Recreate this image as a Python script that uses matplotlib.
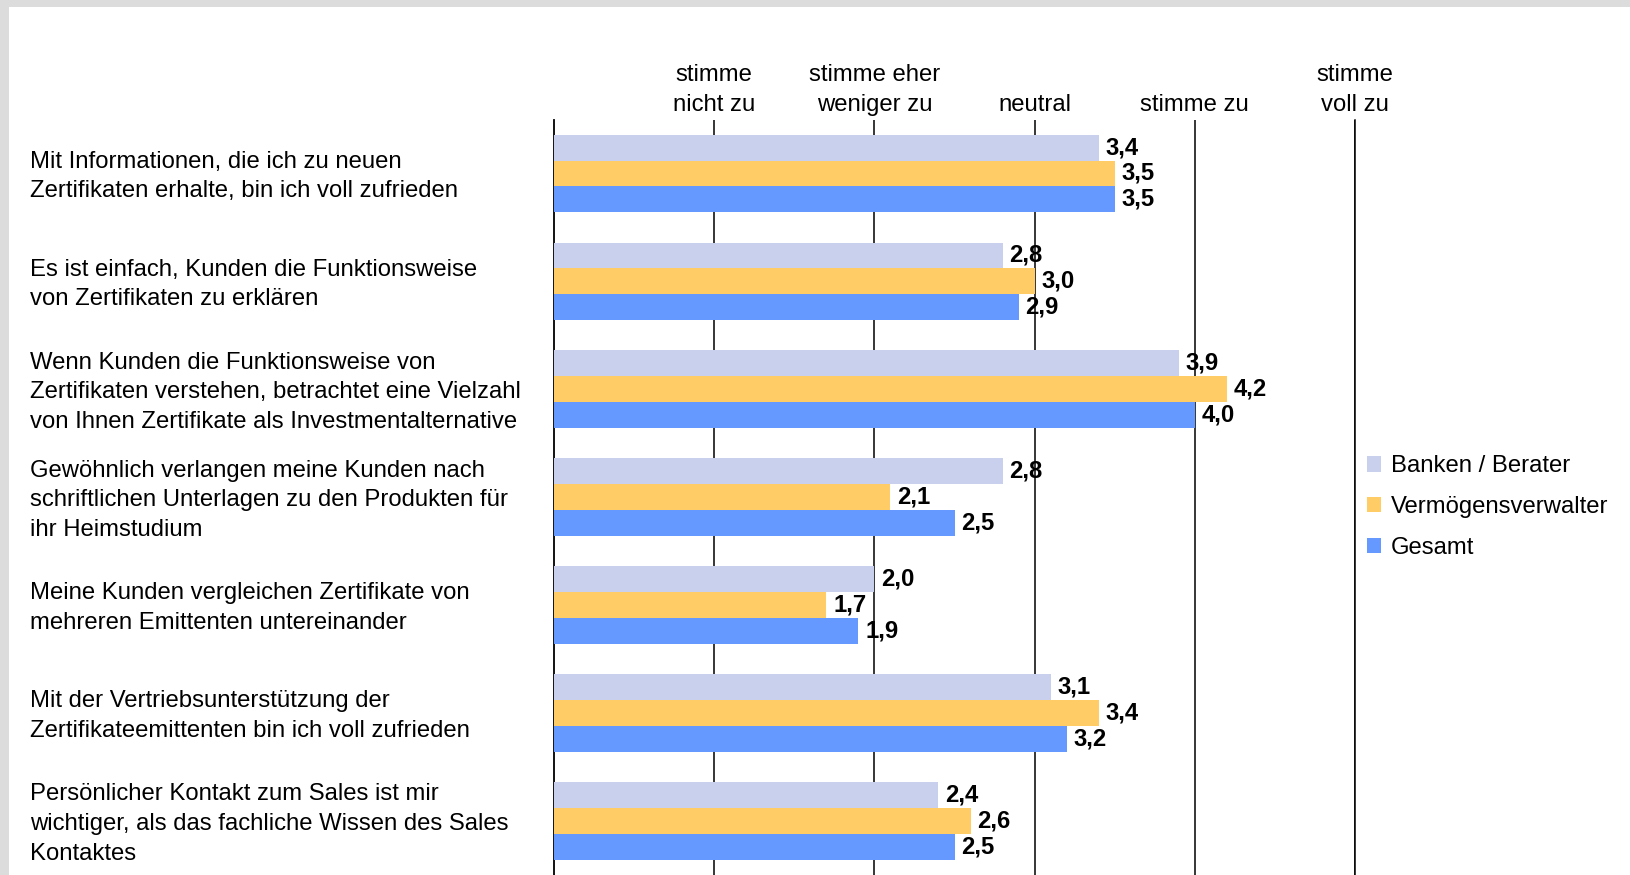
import matplotlib.pyplot as plt
import matplotlib.patches as mpatches
import numpy as np

plt.rcParams['font.family'] = ['Liberation Sans', 'DejaVu Sans']

# Aussagen (Kategorien) und Mittelwerte je Zielgruppe
aussagen = [
    "Mit Informationen, die ich zu neuen\nZertifikaten erhalte, bin ich voll zufrieden",
    "Es ist einfach, Kunden die Funktionsweise\nvon Zertifikaten zu erklären",
    "Wenn Kunden die Funktionsweise von\nZertifikaten verstehen, betrachtet eine Vielzahl\nvon Ihnen Zertifikate als Investmentalternative",
    "Gewöhnlich verlangen meine Kunden nach\nschriftlichen Unterlagen zu den Produkten für\nihr Heimstudium",
    "Meine Kunden vergleichen Zertifikate von\nmehreren Emittenten untereinander",
    "Mit der Vertriebsunterstützung der\nZertifikateemittenten bin ich voll zufrieden",
    "Persönlicher Kontakt zum Sales ist mir\nwichtiger, als das fachliche Wissen des Sales\nKontaktes",
]
banken = [3.4, 2.8, 3.9, 2.8, 2.0, 3.1, 2.4]
vermoegen = [3.5, 3.0, 4.2, 2.1, 1.7, 3.4, 2.6]
gesamt = [3.5, 2.9, 4.0, 2.5, 1.9, 3.2, 2.5]

serien = ["Banken / Berater", "Vermögensverwalter", "Gesamt"]
farben = ["#C8D0EE", "#FFCC66", "#6699FF"]

skala_pos = [1, 2, 3, 4, 5]
skala_text = ["stimme\nnicht zu", "stimme eher\nweniger zu", "neutral", "stimme zu", "stimme\nvoll zu"]

fs = 17.2

fig = plt.figure(figsize=(16.3, 8.75), dpi=100)
fig.patch.set_facecolor("#DCDCDC")
# weisse Flaeche mit grauem Rand oben und links
fig.patches.append(mpatches.Rectangle((9 / 1630, 0), 1, 1 - 7 / 875,
                                      transform=fig.transFigure,
                                      facecolor="white", edgecolor="none", zorder=-5))

ax = fig.add_axes([554 / 1630, 0.0, (1355 - 554) / 1630, 1 - 119.5 / 875])
ax.set_facecolor("none")

y = np.arange(len(aussagen))
h = 0.24
for i, (werte, farbe, name) in enumerate(zip([banken, vermoegen, gesamt], farben, serien)):
    pos = y + (i - 1) * h
    ax.barh(pos, werte, height=h, color=farbe, label=name, zorder=3)
    for p, w in zip(pos, werte):
        ax.annotate(f"{w:.1f}".replace(".", ","), (w, p), xytext=(5, 0),
                    textcoords="offset points", va="center", ha="left",
                    fontsize=fs, fontweight="bold", zorder=4)

ax.set_xlim(0, 5)
ax.set_ylim(len(aussagen) - 0.5, -0.5)

ax.xaxis.tick_top()
ax.set_xticks(skala_pos)
ax.set_xticklabels(skala_text, fontsize=fs, linespacing=1.45)
ax.tick_params(axis="x", length=0, pad=2.5)
ax.set_yticks([])
ax.grid(axis="x", color="black", linewidth=1.1, zorder=1)

for s in ["top", "bottom"]:
    ax.spines[s].set_visible(False)
ax.spines["left"].set_linewidth(1.3)
ax.spines["right"].set_linewidth(1.1)
ax.spines["right"].set_zorder(1)

# Aussagen links als Textbloecke
for yi, txt in zip(y, aussagen):
    ax.annotate(txt, xy=(0, yi), xycoords=("figure fraction", "data"),
                xytext=(30, -3), textcoords="offset pixels",
                ha="left", va="center", fontsize=fs, linespacing=1.45,
                annotation_clip=False)

ax.legend(loc="center left", bbox_to_anchor=(1367 / 1630, 1 - 507 / 875),
          bbox_transform=fig.transFigure, frameon=False, fontsize=fs,
          handlelength=0.6, handleheight=0.6, handletextpad=0.4,
          labelspacing=0.78, borderpad=0, borderaxespad=0)

fig.savefig("out.png", dpi=100, facecolor=fig.get_facecolor())
